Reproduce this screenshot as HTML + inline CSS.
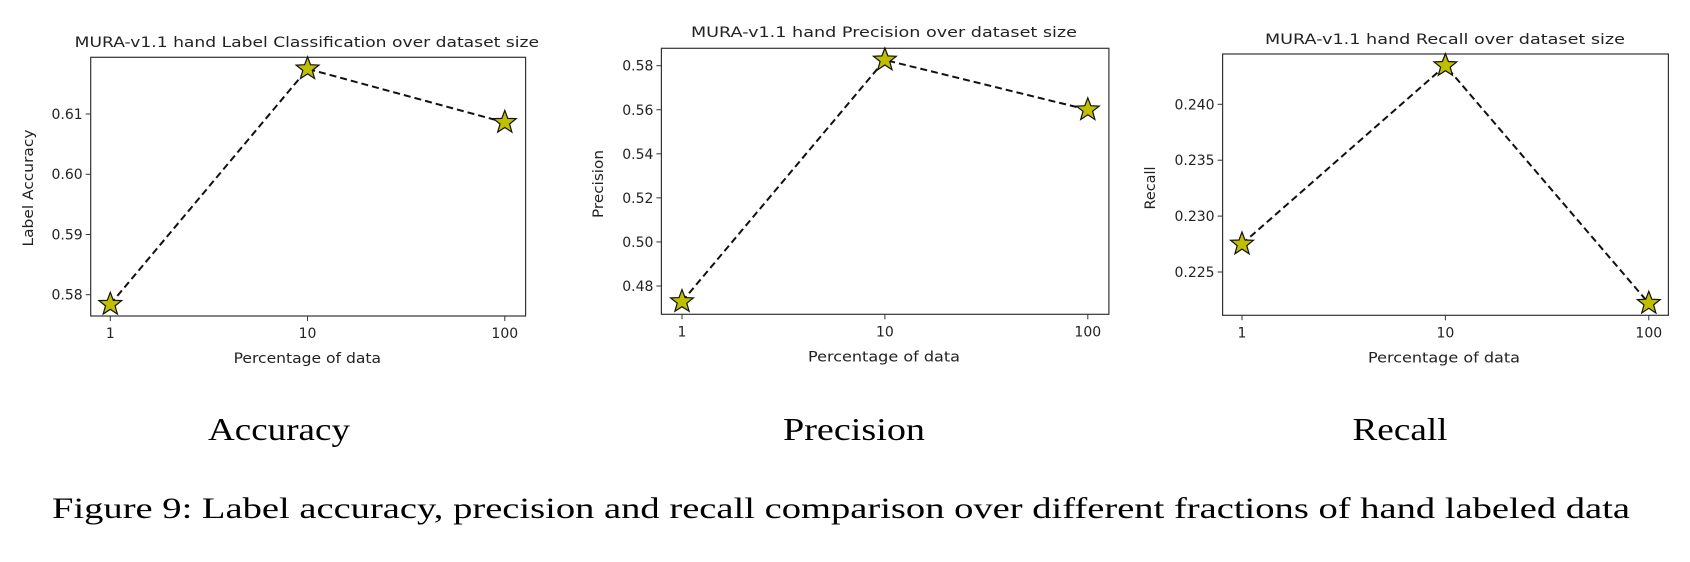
<!DOCTYPE html>
<html><head><meta charset="utf-8"><style>
html,body{margin:0;padding:0;background:#fff;width:1690px;height:562px;overflow:hidden}
svg{display:block}
.tk{font-family:"DejaVu Sans","Liberation Sans",sans-serif;font-size:14px;fill:#222}
.cap{font-family:"Liberation Serif",serif;fill:#000}
</style></head><body>
<svg id="fig" width="1690" height="562" xmlns="http://www.w3.org/2000/svg">
<text class="cap" x="279" y="440" font-size="32" text-anchor="middle" textLength="142" lengthAdjust="spacingAndGlyphs">Accuracy</text>
<text class="cap" x="854" y="440" font-size="32" text-anchor="middle" textLength="142" lengthAdjust="spacingAndGlyphs">Precision</text>
<text class="cap" x="1400" y="440" font-size="32" text-anchor="middle" textLength="95" lengthAdjust="spacingAndGlyphs">Recall</text>
<text class="cap" x="52" y="518" font-size="30" textLength="1578" lengthAdjust="spacingAndGlyphs">Figure 9: Label accuracy, precision and recall comparison over different fractions of hand labeled data</text>
</svg>
<script>
const categories = ["1", "10", "100"];
const accuracyValues = [0.5784, 0.6175, 0.6086];
const accuracyTicks = [0.58, 0.59, 0.60, 0.61];
const precisionValues = [0.4729, 0.5826, 0.5600];
const precisionTicks = [0.48, 0.50, 0.52, 0.54, 0.56, 0.58];
const recallValues = [0.2275, 0.24346, 0.2222];
const recallTicks = [0.225, 0.230, 0.235, 0.240];

const NS = "http://www.w3.org/2000/svg";
const svg = document.getElementById("fig");
function mk(tag, attrs, parent) {
  const e = document.createElementNS(NS, tag);
  for (const k in attrs) e.setAttribute(k, attrs[k]);
  (parent || svg).appendChild(e);
  return e;
}
function starPts(cx, cy, R) {
  const r = R * 0.42, p = [];
  for (let i = 0; i < 10; i++) {
    const a = -Math.PI / 2 + i * Math.PI / 5, rr = i % 2 ? r : R;
    p.push((cx + rr * Math.cos(a)).toFixed(1) + "," + (cy + rr * Math.sin(a)).toFixed(1));
  }
  return p.join(" ");
}
function chart(cfg, values, ticks, decimals) {
  const g = mk("g", {});
  
  
  const {L, R, T, B} = cfg;
  // y scale from two reference ticks
  const y = v => cfg.y0 + (v - cfg.v0) * (cfg.y1 - cfg.y0) / (cfg.v1 - cfg.v0);
  const xStep = (cfg.x1 - cfg.x0) / (categories.length - 1);
  const x = i => cfg.x0 + i * xStep;
  const frame = mk("rect", {x: L, y: T, width: R - L, height: B - T, fill: "none", stroke: "#333", "stroke-width": 1.2}, g);
  
  
  ticks.forEach(t => {
    const yy = y(t);
    const tl = mk("line", {x1: L - 5, x2: L, y1: yy, y2: yy, stroke: "#333"}, g);
    
    
    const tx = mk("text", {x: L - 8, y: yy + 5, "text-anchor": "end", class: "tk"}, g);
    tx.textContent = t.toFixed(decimals);
    
    
  });
  categories.forEach((c, i) => {
    const xx = x(i);
    const tl = mk("line", {x1: xx, x2: xx, y1: B, y2: B + 5, stroke: "#333"}, g);
    
    
    const tx = mk("text", {x: xx, y: B + 22, "text-anchor": "middle", class: "tk"}, g);
    tx.textContent = c;
    
    
  });
  const pts = values.map((v, i) => x(i) + "," + y(v)).join(" ");
  const line = mk("polyline", {points: pts, fill: "none", stroke: "#111", "stroke-width": 2, "stroke-dasharray": "7,4"}, g);
  
  
  values.forEach((v, i) => {
    const s = mk("polygon", {points: starPts(x(i), y(v), 12), fill: "#bfbf00", stroke: "#111", "stroke-width": 1.2}, g);
    
    
  });
  const title = mk("text", {x: cfg.tx0, y: cfg.ty, class: "tk", "font-size": 15, textLength: cfg.tx1 - cfg.tx0, lengthAdjust: "spacingAndGlyphs"}, g);
  title.textContent = cfg.title;
  
  
  const xl = mk("text", {x: cfg.xl0, y: B + 47, class: "tk", textLength: cfg.xl1 - cfg.xl0, lengthAdjust: "spacingAndGlyphs"}, g);
  xl.textContent = "Percentage of data";
  
  
  const yl = mk("text", {x: 0, y: 0, class: "tk", "text-anchor": "middle", transform: `translate(${cfg.ylx},${cfg.yly}) rotate(-90)`, textLength: cfg.yllen, lengthAdjust: "spacingAndGlyphs"}, g);
  yl.textContent = cfg.ylabel;
  
  
}
chart({name: "accuracy-chart", L: 90.7, R: 525.6, T: 57.3, B: 316, v0: 0.58, y0: 294.7, v1: 0.61, y1: 114,
  x0: 110.3, x1: 504.8, title: "MURA-v1.1 hand Label Classification over dataset size", tx0: 74.7, tx1: 539, ty: 47,
  xl0: 233.6, xl1: 381, ylabel: "Label Accuracy", ylx: 33, yly: 188, yllen: 117}, accuracyValues, accuracyTicks, 2);
chart({name: "precision-chart", L: 661.4, R: 1108.9, T: 48.3, B: 314.3, v0: 0.48, y0: 286, v1: 0.58, y1: 65.7,
  x0: 682, x1: 1087.8, title: "MURA-v1.1 hand Precision over dataset size", tx0: 691, tx1: 1077, ty: 37,
  xl0: 808, xl1: 960, ylabel: "Precision", ylx: 603, yly: 184, yllen: 68}, precisionValues, precisionTicks, 2);
chart({name: "recall-chart", L: 1222.6, R: 1668.4, T: 54, B: 315.3, v0: 0.225, y0: 272, v1: 0.240, y1: 104.3,
  x0: 1242, x1: 1648.8, title: "MURA-v1.1 hand Recall over dataset size", tx0: 1265, tx1: 1625, ty: 44,
  xl0: 1368, xl1: 1520, ylabel: "Recall", ylx: 1155, yly: 188, yllen: 43}, recallValues, recallTicks, 3);
</script>
</body></html>
